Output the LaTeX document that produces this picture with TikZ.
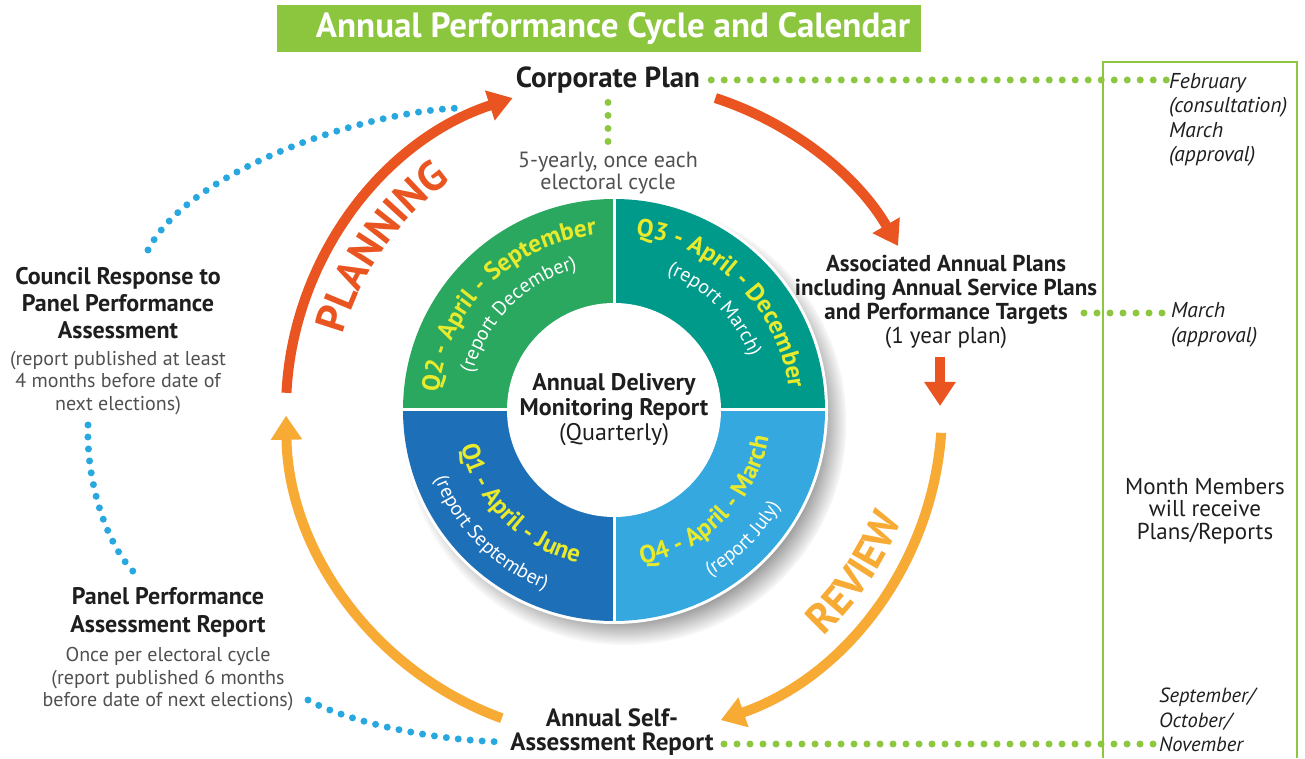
\documentclass[tikz,border=0pt]{standalone}
\usepackage{fontspec}
\setmainfont{PT Sans}
\usepackage{tikz}
\usetikzlibrary{calc}
\usetikzlibrary{positioning}
\usetikzlibrary{arrows.meta}
\usetikzlibrary{decorations.text}
\usetikzlibrary{shadows}

\definecolor{titlegreen}{RGB}{140,198,63}
\definecolor{dotgreen}{RGB}{141,198,63}
\definecolor{dotblue}{RGB}{41,168,224}
\definecolor{arrorange}{RGB}{233,84,32}
\definecolor{arryellow}{RGB}{247,170,52}
\definecolor{qgreen}{RGB}{42,168,95}
\definecolor{qteal}{RGB}{0,154,138}
\definecolor{qblue}{RGB}{29,111,183}
\definecolor{qlight}{RGB}{52,168,223}
\definecolor{qyellow}{RGB}{232,234,45}
\definecolor{ink}{RGB}{30,30,30}
\definecolor{notegray}{RGB}{80,80,80}

\newcommand\qtitle{\fontsize{25}{25}\selectfont\bfseries\color{qyellow}}
\newcommand\qnote{\fontsize{20}{20}\selectfont\color{white}}
\newcommand\bigword{\fontsize{42}{42}\selectfont\bfseries}

\begin{document}
\begin{tikzpicture}[x=1pt,y=1pt,>={Triangle[width=30pt,length=24pt]},
    phase/.style={line width=10pt,->},
    dotsg/.style={draw=dotgreen,line width=7pt,line cap=round,dash pattern=on 0pt off 13pt},
    dotsb/.style={draw=dotblue,line width=7pt,line cap=round,dash pattern=on 0pt off 12pt},
    qtext/.style={decorate,decoration={text along path,text align=center,text={#1}}}]
  \tikzstyle{heading}=[align=center,font=\fontsize{24}{27}\selectfont\bfseries,text=ink,inner sep=1pt]
  \tikzstyle{note}=[align=center,font=\fontsize{20}{22.5}\selectfont,text=notegray,inner sep=1pt]
  \tikzstyle{month}=[align=left,anchor=west,font=\fontsize{21.5}{24.5}\selectfont\itshape,text=ink,inner sep=1pt]

  \useasboundingbox (0,0) rectangle (1305,758);

  \node[fill=titlegreen,text=white,minimum width=644,minimum height=47,
        font=\fontsize{35}{35}\selectfont\bfseries] (title) at (599,729) {\hspace*{28pt}Annual Performance Cycle and Calendar};

  \draw[dotgreen,line width=1.5pt] (1103,0) -- (1103,696) -- (1297,696) -- (1297,0);

  % quarterly ring
  \node[circle,fill=white,minimum size=428,
        circular drop shadow={shadow xshift=10pt,shadow yshift=-12pt,shadow scale=1.04}] (ring) at (614,348) {};
  \foreach \s/\col in {0/qteal,90/qgreen,180/qblue,270/qlight}
    \fill[\col] (ring.center) -- ++(\s:211) arc[start angle=\s,delta angle=90,radius=211] -- cycle;
  \draw[white,line width=3pt] (ring.north) -- (ring.south) (ring.west) -- (ring.east);
  \node[circle,fill=white,minimum size=214,inner sep=0,align=center,text=ink,
        font=\fontsize{24}{25}\selectfont\bfseries] (hub) at (ring.center) {Annual Delivery\\ Monitoring Report\\ {\mdseries (Quarterly)}};

  \path[qtext={|\qtitle|Q2 - April - September}] ($(ring.center)+(180:176)$) arc[start angle=180,end angle=90,radius=176];
  \path[qtext={|\qnote|(report December)}] ($(ring.center)+(180:146)$) arc[start angle=180,end angle=90,radius=146];
  \path[qtext={|\qtitle|Q3 - April - December}] ($(ring.center)+(90:176)$) arc[start angle=90,end angle=0,radius=176];
  \path[qtext={|\qnote|(report March)}] ($(ring.center)+(90:146)$) arc[start angle=90,end angle=0,radius=146];
  \path[qtext={|\qtitle|Q1 - April - June}] ($(ring.center)+(180:157)$) arc[start angle=180,end angle=270,radius=157];
  \path[qtext={|\qnote|(report September)}] ($(ring.center)+(180:192)$) arc[start angle=180,end angle=270,radius=192];
  \path[qtext={|\qtitle|Q4 - April - March}] ($(ring.center)+(270:157)$) arc[start angle=270,end angle=360,radius=157];
  \path[qtext={|\qnote|(report July)}] ($(ring.center)+(270:192)$) arc[start angle=270,end angle=360,radius=192];

  % stages
  \node[heading,font=\fontsize{29}{29}\selectfont\bfseries] (corp) at (608,678) {Corporate Plan};
  \node[note,text=notegray,font=\fontsize{22}{22}\selectfont] (yearly) at (608,585) {5-yearly, once each\\ electoral cycle};
  \node[heading,font=\fontsize{23}{24}\selectfont\bfseries] (assoc) at (946,456)
    {Associated Annual Plans\\ including Annual Service Plans\\ and Performance Targets\\ {\mdseries (1 year plan)}};
  \node[heading] (council) at (118,455) {Council Response to\\ Panel Performance\\ Assessment};
  \node[note,below=10pt of council] (councilnote) {(report published at least\\ 4 months before date of\\ next elections)};
  \node[heading,font=\fontsize{24}{28}\selectfont\bfseries] (panel) at (168,146) {Panel Performance\\ Assessment Report};
  \node[note,below=8pt of panel] (panelnote) {Once per electoral cycle\\ (report published 6 months\\ before date of next elections)};
  \node[heading,font=\fontsize{25}{24}\selectfont\bfseries] (selfrep) at (612,26) {Annual Self-\\ Assessment Report};

  % calendar
  \node[month] (feb) at (1168,638) {February\\ (consultation)\\ March\\ (approval)};
  \node[month] (march) at (1170,433) {March\\ (approval)};
  \node[align=center,text=ink,font=\fontsize{23}{22.5}\selectfont] (members) at (1205,247) {Month Members\\ will receive\\ Plans/Reports};
  \node[month,font=\fontsize{20.5}{24.5}\selectfont\itshape] (sept) at (1158,38) {September/\\ October/\\ November};

  % cycle arrows
  \coordinate (planS) at ($(ring.center)+(177:328)$);
  \coordinate (corpS) at ($(ring.center)+(72:328)$);
  \coordinate (revS) at ($(ring.center)+(-4:328)$);
  \coordinate (selfS) at ($(ring.center)+(250:328)$);
  \coordinate (yearS) at (940,401);
  \coordinate (yearE) at (940,352);
  \draw[phase,draw=arrorange] (planS) arc[start angle=177,end angle=108,radius=328];
  \draw[phase,draw=arrorange] (corpS) arc[start angle=72,end angle=30,radius=328];
  \draw[phase,draw=arrorange] (yearS) -- (yearE);
  \draw[phase,draw=arryellow] (revS) arc[start angle=-4,end angle=-71,radius=328];
  \draw[phase,draw=arryellow] (selfS) arc[start angle=250,end angle=181,radius=328];
  \path[qtext={|\bigword\color{arrorange}|PLANNING}] ($(ring.center)+(178:281)$) arc[start angle=178,end angle=112,radius=281];
  \path[qtext={|\bigword\color{arryellow}|REVIEW}] ($(ring.center)+(-64:308)$) arc[start angle=-64,end angle=-4,radius=308];

  % dotted links
  \coordinate (tgt) at (1084,445);
  \coordinate (selfE) at (724,14);
  \draw[dotsg] ($(corp.east)+(10,0)$) -- (corp.east -| feb.west);
  \draw[dotsg] ([yshift=-8]corp.south) -- ([yshift=6]yearly.north);
  \draw[dotsg] (tgt) -- (tgt -| march.west);
  \draw[dotsg] (selfE) -- (selfE -| sept.west);

  \coordinate (cTop) at (148,508);
  \coordinate (pTail) at (462,650);
  \coordinate (cBot) at (88,333);
  \coordinate (pTop) at (140,180);
  \coordinate (pRight) at (308,58);
  \coordinate (sLeft) at (505,16);
  \draw[dotsb] (cTop) .. controls (190,590) and (370,648) .. (pTail);
  \draw[dotsb] (cBot) .. controls (86,270) and (110,205) .. (pTop);
  \draw[dotsb] (pRight) .. controls (340,40) and (420,18) .. (sLeft);
\end{tikzpicture}
\end{document}
